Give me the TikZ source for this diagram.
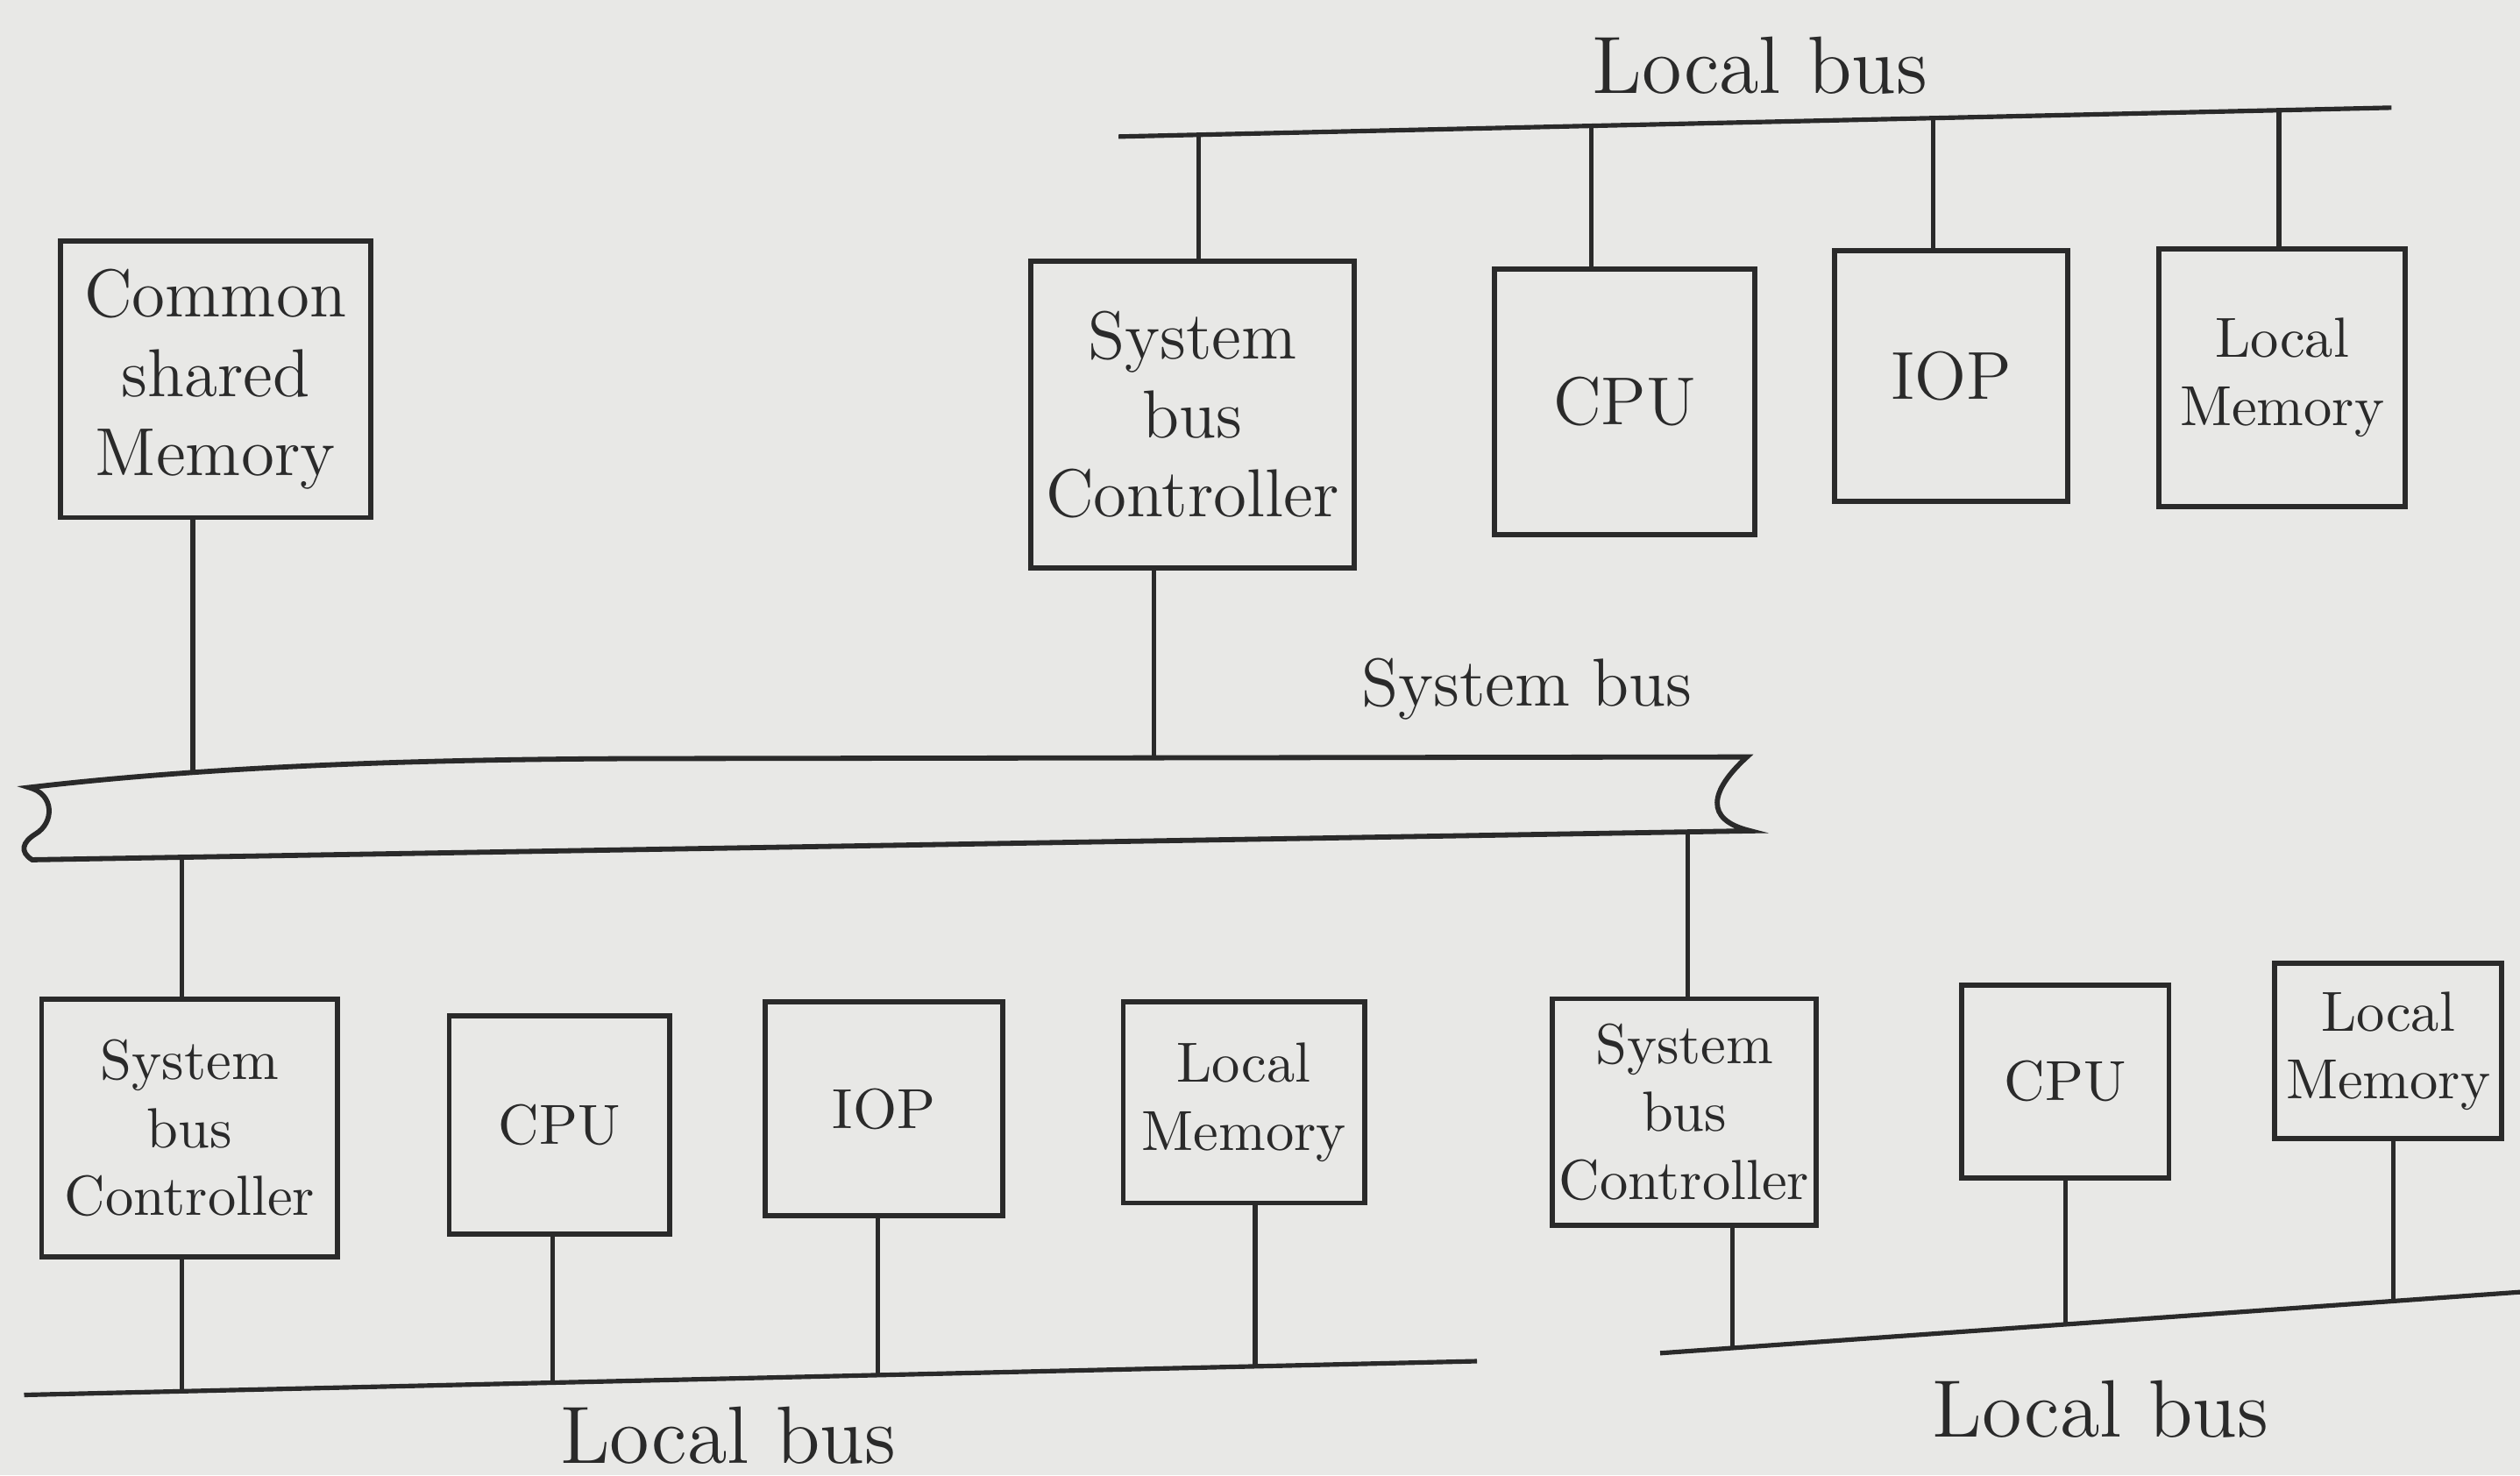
\documentclass[tikz,border=0pt]{standalone}
\usepackage{tikz}
\usetikzlibrary{positioning,calc}
\definecolor{paper}{HTML}{E8E8E6}
\definecolor{ink}{HTML}{2A2A2A}

\tikzset{
  unit/.style={draw=ink,line width=0.9pt,align=center,text=ink,inner sep=1pt,font=\normalsize},
  bigunit/.style={unit,font=\large},
  wire/.style={draw=ink,line width=0.8pt},
  buslabel/.style={text=ink,font=\Large}
}

\begin{document}
\begin{tikzpicture}[x=0.01cm,y=-0.01cm]
  \useasboundingbox (0,0) rectangle (1568,918);
  \fill[paper] (0,0) rectangle (1568,918);

  % upper group
  \node[bigunit,minimum width=1.93cm,minimum height=1.72cm] (csm) at (134,236) {Common\\shared\\Memory};
  \node[bigunit,minimum width=2.01cm,minimum height=1.91cm] (sbcT) at (742,258) {System\\bus\\Controller};
  \node[bigunit,minimum width=1.62cm,minimum height=1.65cm] (cpuT) at (1011,250) {CPU};
  \node[bigunit,minimum width=1.45cm,minimum height=1.56cm] (iopT) at (1214,234) {IOP};
  \node[unit,minimum width=1.53cm,minimum height=1.60cm] (lmT) at (1420,235) {Local\\Memory};

  % lower left group
  \node[unit,minimum width=1.84cm,minimum height=1.60cm] (sbcL) at (118,702) {System\\bus\\Controller};
  \node[unit,minimum width=1.37cm,minimum height=1.36cm] (cpuL) at (348,700) {CPU};
  \node[unit,minimum width=1.48cm,minimum height=1.33cm] (iopL) at (550,690) {IOP};
  \node[unit,minimum width=1.50cm,minimum height=1.25cm] (lmL) at (774,686) {Local\\Memory};

  % lower right group
  \node[unit,minimum width=1.64cm,minimum height=1.41cm] (sbcR) at (1048,692) {System\\bus\\Controller};
  \node[unit,minimum width=1.29cm,minimum height=1.20cm] (cpuR) at (1285,673) {CPU};
  \node[unit,minimum width=1.41cm,minimum height=1.09cm] (lmR) at (1486,654) {Local\\Memory};

  % system bus
  \draw[wire,line width=0.9pt] (18,490) .. controls (130,477) and (260,472) .. (420,472) -- (1087,471)
    .. controls (1064,492) and (1060,510) .. (1089,517) -- (20,535)
    .. controls (12,530) and (14,524) .. (22,519)
    .. controls (34,512) and (34,494) .. (18,490) -- cycle;
  \node[buslabel,font=\large] (systext) at (950,429) {System bus};
  \coordinate (sysA) at (120,481);
  \coordinate (sysB) at (718,472);
  \coordinate (sysC) at (113,533);
  \coordinate (sysD) at (1050,519);
  \draw[wire] (csm.south -| sysA) -- (sysA);
  \draw[wire] (sbcT.south -| sysB) -- (sysB);
  \draw[wire] (sbcL.north -| sysC) -- (sysC);
  \draw[wire] (sbcR.north -| sysD) -- (sysD);

  % local buses
  \coordinate (lbT1) at (696,85);
  \coordinate (lbT2) at (1488,67);
  \coordinate (lbL1) at (15,868);
  \coordinate (lbL2) at (919,847);
  \coordinate (lbR1) at (1033,842);
  \coordinate (lbR2) at (1568,804);
  \draw[wire] (lbT1) -- (lbT2);
  \draw[wire] (lbL1) -- (lbL2);
  \draw[wire] (lbR1) -- (lbR2);
  \node[buslabel] (lbTtext) at (1095,41) {Local bus};
  \node[buslabel] (lbLtext) at (453,893) {Local bus};
  \node[buslabel] (lbRtext) at (1307,877) {Local bus};

  \coordinate (tsbcT) at (746,84);
  \coordinate (tcpuT) at (990,78);
  \coordinate (tiopT) at (1203,73);
  \coordinate (tlmT) at (1418,69);
  \foreach \n in {sbcT,cpuT,iopT,lmT}
    \draw[wire] (\n.north -| t\n) -- (t\n);

  \coordinate (tsbcL) at (113,866);
  \coordinate (tcpuL) at (344,860);
  \coordinate (tiopL) at (546,856);
  \coordinate (tlmL) at (781,850);
  \coordinate (tsbcR) at (1078,839);
  \coordinate (tcpuR) at (1285,824);
  \coordinate (tlmR) at (1489,810);
  \foreach \n in {sbcL,cpuL,iopL,lmL,sbcR,cpuR,lmR}
    \draw[wire] (\n.south -| t\n) -- (t\n);
\end{tikzpicture}
\end{document}
